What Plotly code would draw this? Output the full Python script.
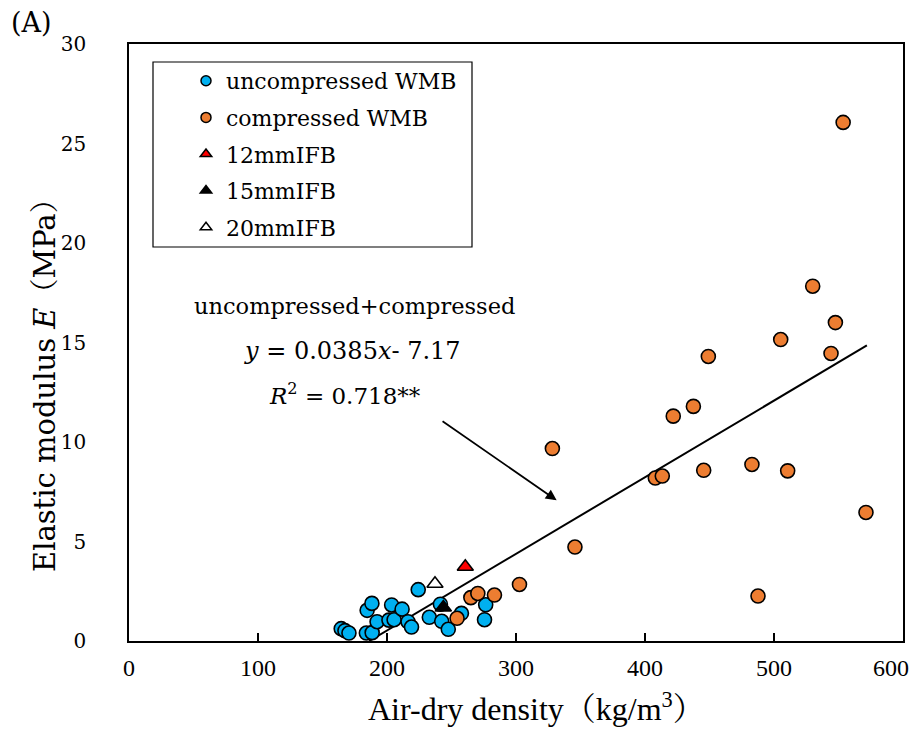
import plotly.graph_objects as go

# ---- data ----
unc_x = [164.5, 167.4, 170.5, 184.0, 188.5, 184.6, 188.3, 192.3, 203.6, 201.5, 205.5,
         211.7, 216.3, 219.0, 224.2, 232.8, 241.4, 242.4, 247.5, 257.7, 276.5, 275.6]
unc_y = [0.62, 0.52, 0.40, 0.40, 0.42, 1.54, 1.89, 0.97, 1.81, 1.05, 1.07,
         1.60, 0.97, 0.70, 2.58, 1.19, 1.85, 0.99, 0.59, 1.39, 1.82, 1.07]

comp_x = [254.3, 265.0, 270.4, 283.3, 302.7, 328.2, 345.7, 408.0, 413.4, 421.9, 437.5,
          445.5, 449.1, 482.9, 487.6, 505.2, 510.6, 530.0, 544.2, 547.6, 553.6, 571.3]
comp_y = [1.14, 2.18, 2.39, 2.31, 2.84, 9.67, 4.72, 8.19, 8.29, 11.30, 11.79,
          8.58, 14.30, 8.87, 2.26, 15.15, 8.55, 17.83, 14.45, 16.00, 26.06, 6.46]

ifb12_x, ifb12_y = [260.7], [3.73]
ifb15_x, ifb15_y = [243.7], [1.68]
ifb20_x, ifb20_y = [237.2], [2.88]

slope, intercept = 0.0385, -7.17
fit_x = [186.2, 572.0]
fit_y = [slope * v + intercept for v in fit_x]

x_ticks = [0, 100, 200, 300, 400, 500, 600]
# trailing no-break spaces nudge the last label inward so it is not clipped
x_ticktext = ["0", "100", "200", "300", "400", "500", "600\u00a0\u00a0\u00a0\u00a0"]
y_ticks = [0, 5, 10, 15, 20, 25, 30]

BLUE = "#00B0F0"
ORANGE = "#ED7D31"
SERIF = "DejaVu Serif, Noto Serif CJK JP, Noto Sans CJK JP, serif"
TIMES = "Liberation Serif, Noto Serif CJK JP, Noto Sans CJK JP, serif"

fig = go.Figure()

# regression line
fig.add_trace(go.Scatter(x=fit_x, y=fit_y, mode="lines",
                         line=dict(color="black", width=2), showlegend=False,
                         hoverinfo="skip"))

mk_line = dict(color="black", width=1.6)
fig.add_trace(go.Scatter(x=unc_x, y=unc_y, mode="markers", showlegend=False,
                         marker=dict(symbol="circle", size=14, color=BLUE, line=mk_line)))
fig.add_trace(go.Scatter(x=comp_x, y=comp_y, mode="markers", showlegend=False,
                         marker=dict(symbol="circle", size=14, color=ORANGE, line=mk_line)))
fig.add_trace(go.Scatter(x=ifb12_x, y=ifb12_y, mode="markers", showlegend=False,
                         marker=dict(symbol="triangle-up", size=14, color="red", line=mk_line)))
fig.add_trace(go.Scatter(x=ifb15_x, y=ifb15_y, mode="markers", showlegend=False,
                         marker=dict(symbol="triangle-up", size=14, color="black", line=mk_line)))
fig.add_trace(go.Scatter(x=ifb20_x, y=ifb20_y, mode="markers", showlegend=False,
                         marker=dict(symbol="triangle-up", size=14, color="white", line=mk_line)))

# legend entries (smaller symbols, as in the reference)
leg = [("uncompressed WMB", "circle", BLUE), ("compressed WMB", "circle", ORANGE),
       ("12mmIFB", "triangle-up", "red"), ("15mmIFB", "triangle-up", "black"),
       ("20mmIFB", "triangle-up", "white")]
for i, (name, sym, col) in enumerate(leg):
    fig.add_trace(go.Scatter(x=[None], y=[None], mode="markers", name=name,
                             legendgroup=f"g{i}",
                             marker=dict(symbol=sym, size=10, color=col,
                                         line=dict(color="black", width=1.5))))

OFF = 8  # page body margin
W, H = 921 - OFF, 731 - OFF
L, T = 129 - OFF, 44 - OFF
R = W - (903 - OFF)
B = H - (641 - OFF)
pw, ph = W - L - R, H - T - B
px = lambda v: (v - OFF - L) / pw          # page pixel -> paper
py = lambda v: (T + ph - (v - OFF)) / ph

fig.update_layout(
    width=W, height=H,
    margin=dict(l=L, r=R, t=T, b=B, autoexpand=False),
    plot_bgcolor="white", paper_bgcolor="white",
    font=dict(family=SERIF, color="black", size=20),
    showlegend=True,
    legend=dict(x=px(186), y=py(60), xanchor="left", yanchor="top",
                bgcolor="rgba(0,0,0,0)", borderwidth=0,
                font=dict(family=SERIF, size=22, color="black"),
                tracegroupgap=5, itemsizing="trace"),
    xaxis=dict(range=[0, 600], tickvals=x_ticks, ticktext=x_ticktext,
               showgrid=False, zeroline=False, showline=True, mirror=True,
               linecolor="black", linewidth=1.5, ticks="inside", ticklen=8,
               tickwidth=1.5, tickcolor="black", ticklabelstandoff=4,
               ticklabeloverflow="allow", automargin=False,
               tickfont=dict(family=TIMES, size=24)),
    yaxis=dict(range=[0, 30], tickvals=y_ticks, ticktext=[str(v) for v in y_ticks],
               showgrid=False, zeroline=False, showline=True, mirror=True,
               linecolor="black", linewidth=1.5, ticks="", ticklabelstandoff=37,
               automargin=False,
               tickfont=dict(family=SERIF, size=20)),
    shapes=[dict(type="rect", xref="paper", yref="paper",
                 x0=px(153), x1=px(472), y0=py(247), y1=py(62),
                 line=dict(color="black", width=1.2), fillcolor="rgba(0,0,0,0)")],
)

ann = [
    dict(text="(A)", x=px(31), y=py(23), font=dict(size=27)),
    dict(text="Air-dry density（kg/m<sup>3</sup>）", x=px(536), y=py(707),
         font=dict(family=TIMES, size=32)),
    dict(text="Elastic modulus <i>E</i>（MPa）", x=px(45), y=py(378), textangle=-90,
         font=dict(size=29)),
    dict(text="uncompressed+compressed", x=px(354), y=py(306), font=dict(size=22.5)),
    dict(text="<i>y</i> = 0.0385<i>x</i>- 7.17", x=px(352), y=py(351), font=dict(size=24)),
    dict(text="<i>R</i><sup>2</sup> = 0.718**", x=px(345), y=py(394), font=dict(size=23)),
]
for a in ann:
    a.update(xref="paper", yref="paper", showarrow=False, xanchor="center", yanchor="middle")
    fig.add_annotation(**a)

# arrow
fig.add_annotation(x=331.5, y=7.07, ax=241.9, ay=11.09, xref="x", yref="y",
                   axref="x", ayref="y", text="", showarrow=True,
                   arrowhead=2, arrowsize=1.2, arrowwidth=1.8, arrowcolor="black")

fig.write_html("out.html")
